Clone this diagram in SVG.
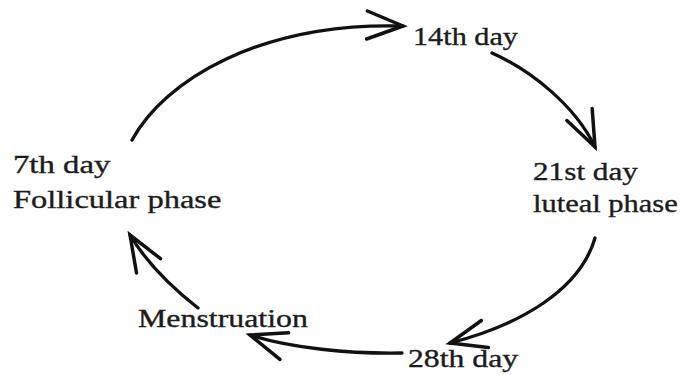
<svg xmlns="http://www.w3.org/2000/svg" width="684" height="375" viewBox="0 0 684 375">
<style>
.lbl{font-family:"Liberation Serif","Times New Roman",serif;font-size:25px;fill:#1c1c1c;stroke:#1c1c1c;stroke-width:0.35}
.arc{fill:none;stroke:#111;stroke-width:3.3;stroke-linecap:round;marker-end:url(#head)}
</style>
<defs>
<marker id="head" markerUnits="userSpaceOnUse" viewBox="-42 -20 48 40" markerWidth="48" markerHeight="40" refX="0" refY="0" orient="auto" overflow="visible">
<path d="M-36,-14 L0,0 L-36,14" fill="none" stroke="#111" stroke-width="3.5" stroke-linecap="round" stroke-linejoin="miter"/>
</marker>
</defs>
<rect width="684" height="375" fill="#fff"/>
<g id="connectors">
<path class="arc" d="M132,140 C165,80 260,22 403,26"/>
<path class="arc" d="M492,53 C530,70 575,105 595,147"/>
<path class="arc" d="M595,238 C580,290 520,325 450,343"/>
<path class="arc" d="M402,353 C350,354 290,348 250,335"/>
<path class="arc" d="M198,308 C175,290 148,265 130,235"/>
</g>
<g id="day14"><text class="lbl" transform="translate(413,45) scale(1.21,1)">14th day</text></g>
<g id="day21">
<text class="lbl" transform="translate(533,180) scale(1.25,1)">21st day</text>
<text class="lbl" transform="translate(533,212) scale(1.22,1)">luteal phase</text>
</g>
<g id="day28"><text class="lbl" transform="translate(408,367) scale(1.27,1)">28th day</text></g>
<g id="menstruation"><text class="lbl" transform="translate(138,327) scale(1.275,1)">Menstruation</text></g>
<g id="day7">
<text class="lbl" transform="translate(13,173) scale(1.31,1)">7th day</text>
<text class="lbl" transform="translate(13,208) scale(1.3,1)">Follicular phase</text>
</g>
</svg>
